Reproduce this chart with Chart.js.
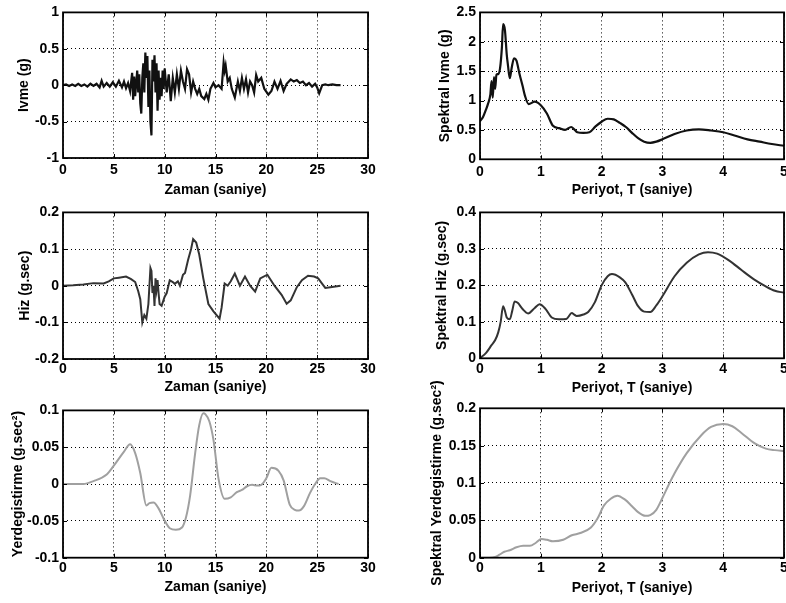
<!DOCTYPE html>
<html><head><meta charset="utf-8">
<script src="https://cdn.jsdelivr.net/npm/chart.js@4/dist/chart.umd.min.js"></script>
<style>
html,body{margin:0;padding:0;background:#fff;overflow:hidden;width:786px;height:603px;position:relative}
canvas{position:absolute}
</style></head><body>
<canvas id="c1"></canvas><canvas id="c2"></canvas><canvas id="c3"></canvas>
<canvas id="c4"></canvas><canvas id="c5"></canvas><canvas id="c6"></canvas>
<script>
// ---- data ----
const accTime=[0,0.3,0.6,0.9,1.2,1.5,1.8,2.1,2.4,2.7,3.0,3.3,3.6,3.8,4.0,4.3,4.6,4.9,5.2,5.5,5.8,6.0,6.2,6.4,6.6,6.8,6.9,7.0,7.1,7.3,7.4,7.5,7.6,7.7,7.8,7.9,8.0,8.1,8.2,8.3,8.4,8.5,8.6,8.7,8.8,8.9,9.0,9.1,9.2,9.3,9.4,9.5,9.6,9.7,9.8,9.9,10.0,10.2,10.4,10.6,10.8,11.0,11.2,11.4,11.6,11.8,12.0,12.2,12.4,12.6,12.8,13.0,13.2,13.4,13.6,13.9,14.1,14.3,14.5,14.8,15.0,15.3,15.6,15.8,15.9,16.0,16.2,16.4,16.6,16.9,17.2,17.4,17.6,17.8,18.0,18.2,18.4,18.6,18.8,19.0,19.2,19.5,19.8,20.2,20.5,20.8,21.1,21.4,21.7,22.0,22.4,22.7,23.0,23.3,23.6,23.9,24.2,24.5,24.8,25.0,25.2,25.5,25.8,26.1,26.5,26.9,27.3];
const accValues=[0,0.01,-0.01,0.01,-0.01,0.02,-0.01,0.01,-0.02,0.02,-0.01,0.02,-0.03,0.06,-0.02,0.03,-0.02,0.04,-0.02,0.06,-0.03,0.05,-0.04,0.03,-0.08,0.17,-0.2,0.12,-0.15,0.2,-0.1,0.15,-0.25,-0.39,0.1,0.3,-0.1,0.45,0.1,0.4,-0.3,0.2,-0.5,-0.69,0.35,0.05,0.41,-0.1,0.3,-0.35,0.2,-0.2,0.1,-0.15,0.2,-0.05,0.23,-0.1,0.15,-0.22,0.1,-0.1,0.15,-0.05,0.2,0.05,-0.05,0.22,0.15,-0.1,0.05,-0.05,-0.12,-0.05,-0.15,-0.19,-0.12,-0.2,-0.05,0.03,-0.03,0.0,-0.05,0.31,0.2,0.27,0.05,0.1,-0.05,-0.17,0.05,-0.08,0.1,-0.05,0.08,-0.1,0.05,0.0,-0.1,0.14,0.05,0.1,-0.05,-0.13,-0.08,0.05,-0.05,0.06,-0.08,0.02,0.08,0.05,0.07,0.03,0.05,0.0,0.03,-0.02,0.02,-0.03,-0.11,0.0,0.01,0.0,0.01,0.0,0.0];

const velTime=[0,1,2,3,4,4.5,5,5.5,6.2,6.7,7.1,7.4,7.6,7.8,8.0,8.2,8.4,8.5,8.6,8.7,8.8,8.9,9.0,9.1,9.2,9.3,9.4,9.5,9.7,10.0,10.2,10.5,10.8,11.0,11.3,11.5,11.8,12.0,12.3,12.6,12.8,13.1,13.4,13.8,14.3,14.8,15.4,15.6,15.9,16.2,16.5,16.9,17.4,17.9,18.4,18.9,19.4,20.1,20.8,21.5,22.0,22.4,23.0,23.5,24.1,24.7,25.1,25.5,25.8,26.3,27.3];
const velValues=[0,0.001,0.003,0.007,0.006,0.012,0.02,0.022,0.025,0.018,0.01,-0.015,-0.037,-0.1,-0.08,-0.09,-0.05,0.0,0.048,0.04,-0.02,0.0,-0.055,0.02,-0.01,0.015,-0.02,-0.05,-0.055,-0.03,-0.02,0.015,0.01,0.005,0.012,0.0,0.03,0.035,0.07,0.1,0.127,0.118,0.085,0.02,-0.05,-0.07,-0.09,-0.06,0.006,0.0,0.012,0.033,0.0,0.025,0.0,-0.016,0.02,0.03,0.0,-0.025,-0.049,-0.04,-0.004,0.015,0.027,0.025,0.02,0.005,-0.006,-0.004,0.0];

const dispTime=[0,1,2,3,4.3,5,6,6.6,7.1,7.6,8.2,8.5,8.9,9.4,9.9,10.5,11.1,11.7,12.1,12.5,13.0,13.4,13.8,14.0,14.4,14.8,15.3,15.9,16.5,17.1,17.6,18.1,18.6,19.1,19.5,20.0,20.5,21.2,21.7,22.3,22.8,23.2,23.7,24.3,24.8,25.3,25.7,26.3,27.1];
const dispValues=[0,0,0,0.004,0.013,0.025,0.044,0.054,0.042,0.015,-0.029,-0.026,-0.025,-0.033,-0.047,-0.06,-0.062,-0.059,-0.045,-0.016,0.042,0.08,0.096,0.095,0.085,0.06,0.007,-0.02,-0.018,-0.011,-0.008,-0.003,-0.001,-0.002,-0.001,0.008,0.022,0.018,0.005,-0.028,-0.035,-0.036,-0.03,-0.012,0.0,0.008,0.008,0.004,0];

const saPeriod=[0,0.05,0.1,0.13,0.17,0.19,0.21,0.23,0.25,0.27,0.3,0.33,0.36,0.38,0.41,0.44,0.46,0.49,0.52,0.56,0.6,0.65,0.7,0.74,0.8,0.9,1.0,1.1,1.2,1.3,1.4,1.5,1.55,1.6,1.7,1.8,1.9,2.0,2.1,2.2,2.3,2.4,2.5,2.6,2.7,2.8,2.9,3.0,3.2,3.4,3.6,3.8,4.0,4.2,4.4,4.6,4.8,5.0];
const saValues=[0.65,0.72,0.85,0.94,1.1,1.33,1.05,1.4,1.2,1.44,1.45,1.55,1.9,2.3,2.2,1.78,1.6,1.38,1.55,1.72,1.68,1.45,1.25,1.08,0.94,0.98,0.92,0.78,0.57,0.53,0.5,0.55,0.51,0.46,0.45,0.46,0.56,0.64,0.69,0.68,0.62,0.55,0.45,0.36,0.3,0.28,0.3,0.34,0.43,0.49,0.51,0.49,0.46,0.4,0.34,0.3,0.26,0.23];

const svPeriod=[0,0.1,0.19,0.25,0.3,0.34,0.38,0.41,0.44,0.49,0.53,0.57,0.62,0.7,0.79,0.9,0.98,1.08,1.18,1.3,1.42,1.51,1.55,1.59,1.7,1.78,1.89,2.0,2.1,2.17,2.3,2.39,2.5,2.6,2.7,2.8,2.9,3.0,3.2,3.4,3.6,3.75,3.9,4.1,4.3,4.5,4.7,4.85,5.0];
const svValues=[0,0.015,0.036,0.05,0.071,0.1,0.143,0.13,0.112,0.107,0.13,0.156,0.152,0.135,0.123,0.138,0.148,0.135,0.112,0.107,0.108,0.124,0.12,0.116,0.12,0.127,0.154,0.2,0.225,0.231,0.222,0.208,0.175,0.143,0.128,0.127,0.145,0.17,0.225,0.262,0.285,0.291,0.287,0.268,0.242,0.217,0.197,0.185,0.18];

const sdPeriod=[0,0.15,0.25,0.32,0.4,0.49,0.6,0.71,0.82,0.92,1.01,1.1,1.2,1.37,1.51,1.65,1.82,1.93,2.04,2.15,2.26,2.38,2.5,2.6,2.72,2.8,2.9,3.0,3.1,3.2,3.4,3.64,3.8,4.0,4.15,4.3,4.52,4.7,4.85,5.0];
const sdValues=[0,0,0.001,0.004,0.008,0.01,0.014,0.016,0.016,0.02,0.025,0.024,0.022,0.024,0.03,0.033,0.04,0.052,0.07,0.079,0.083,0.078,0.069,0.061,0.056,0.057,0.064,0.08,0.097,0.113,0.14,0.164,0.175,0.179,0.176,0.167,0.153,0.146,0.144,0.143];

const timeTicks=[0,5,10,15,20,25,30];
const periodTicks=[0,1,2,3,4,5];
const accTicks=[-1,-0.5,0,0.5,1];
const velTicks=[-0.2,-0.1,0,0.1,0.2];
const dispTicks=[-0.1,-0.05,0,0.05,0.1];
const saTicks=[0,0.5,1,1.5,2,2.5];
const svTicks=[0,0.1,0.2,0.3,0.4];
const sdTicks=[0,0.05,0.1,0.15,0.2];

// ---- drawing ----
const boxPlugin={id:'box',afterDraw(chart){
  const {ctx,chartArea:a,scales}=chart;
  ctx.save();
  ctx.strokeStyle='#000';ctx.lineWidth=1;ctx.setLineDash([]);
  ctx.beginPath();
  scales.x.ticks.forEach(t=>{const p=Math.round(scales.x.getPixelForValue(t.value))+0.5;
    ctx.moveTo(p,a.bottom);ctx.lineTo(p,a.bottom-4);ctx.moveTo(p,a.top);ctx.lineTo(p,a.top+4);});
  scales.y.ticks.forEach(t=>{const p=Math.round(scales.y.getPixelForValue(t.value))+0.5;
    ctx.moveTo(a.left,p);ctx.lineTo(a.left+4,p);ctx.moveTo(a.right,p);ctx.lineTo(a.right-4,p);});
  ctx.stroke();
  ctx.lineWidth=1.8;
  ctx.strokeRect(a.left,a.top,a.right-a.left,a.bottom-a.top);
  ctx.restore();
}};

const FONT='"Liberation Sans", Arial, sans-serif';
function panel(id,g,xs,ys,xTicks,yTicks,xTitle,yTitle,color,smooth){
  const cv=document.getElementById(id);
  cv.style.left=g.L+'px';cv.style.top=g.T+'px';
  cv.width=g.W;cv.height=g.H;
  const pts=xs.map((x,i)=>({x:x,y:ys[i]}));
  const tickSet=arr=>scale=>{scale.ticks=arr.map(v=>({value:v}));};
  new Chart(cv,{
    type:'line',
    data:{datasets:[{data:pts,borderColor:color,borderWidth:g.lw||2,pointRadius:0,
      tension:smooth?0.4:0,cubicInterpolationMode:smooth?'monotone':'default',fill:false}]},
    options:{
      responsive:false,animation:false,devicePixelRatio:1,
      layout:{padding:{left:g.padL,top:g.padT,right:g.padR,bottom:0}},
      plugins:{legend:{display:false},tooltip:{enabled:false}},
      scales:{
        x:{type:'linear',min:xTicks[0],max:xTicks[xTicks.length-1],
          afterBuildTicks:tickSet(xTicks),
          afterFit:s=>{s.height=g.xH;},
          grid:{color:'#000',lineWidth:1,drawTicks:false},
          border:{display:false,dash:[1,3]},
          ticks:{color:'#000',padding:g.xTickPad,font:{family:FONT,size:14,weight:'bold'},
            maxRotation:0,autoSkip:false,callback:v=>String(v)},
          title:{display:true,text:xTitle,color:'#000',font:{family:FONT,size:14,weight:'bold'},padding:{top:0,bottom:2}}},
        y:{type:'linear',min:yTicks[0],max:yTicks[yTicks.length-1],
          afterBuildTicks:tickSet(yTicks),
          afterFit:s=>{s.width=g.yW;},
          grid:{color:'#000',lineWidth:1,drawTicks:false},
          border:{display:false,dash:[1,3]},
          ticks:{color:'#000',padding:4,font:{family:FONT,size:14,weight:'bold'},
            autoSkip:false,callback:v=>String(v)},
          title:{display:true,text:yTitle,color:'#000',font:{family:FONT,size:14,weight:'bold'},padding:{top:4,bottom:0}}}
      }
    },
    plugins:[boxPlugin]
  });
}

panel('c1',{L:0,T:0,W:380,H:201,padL:11.6,padT:9,padR:12,yW:51.4,xH:43,xTickPad:4,lw:2.2},
  accTime,accValues,timeTicks,accTicks,'Zaman (saniye)','Ivme (g)','#111',false);
panel('c2',{L:392,T:0,W:408,H:201,padL:40.6,padT:10,padR:16,yW:47.4,xH:41.7,xTickPad:4,lw:2.2},
  saPeriod,saValues,periodTicks,saTicks,'Periyot, T (saniye)','Spektral Ivme (g)','#111',true);
panel('c3',{L:0,T:200,W:380,H:198,padL:12.4,padT:9,padR:12,yW:50.6,xH:39,xTickPad:1.6,lw:2},
  velTime,velValues,timeTicks,velTicks,'Zaman (saniye)','Hiz (g.sec)','#333',false);
panel('c4',{L:392,T:200,W:408,H:199,padL:37.3,padT:9,padR:16,yW:50.7,xH:40.7,xTickPad:2.3,lw:2},
  svPeriod,svValues,periodTicks,svTicks,'Periyot, T (saniye)','Spektral Hiz (g.sec)','#333',true);
panel('c5',{L:0,T:398,W:380,H:200,padL:5.9,padT:10,padR:12,yW:57.1,xH:40.3,xTickPad:2.2,lw:2},
  dispTime,dispValues,timeTicks,dispTicks,'Zaman (saniye)','Yerdegistirme (g.sec²)','#a0a0a0',true);
panel('c6',{L:392,T:360,W:408,H:239,padL:32.3,padT:48.3,padR:16,yW:55.7,xH:41.3,xTickPad:2.2,lw:2},
  sdPeriod,sdValues,periodTicks,sdTicks,'Periyot, T (saniye)','Spektral Yerdegistirme (g.sec²)','#a0a0a0',true);
</script>
</body></html>
